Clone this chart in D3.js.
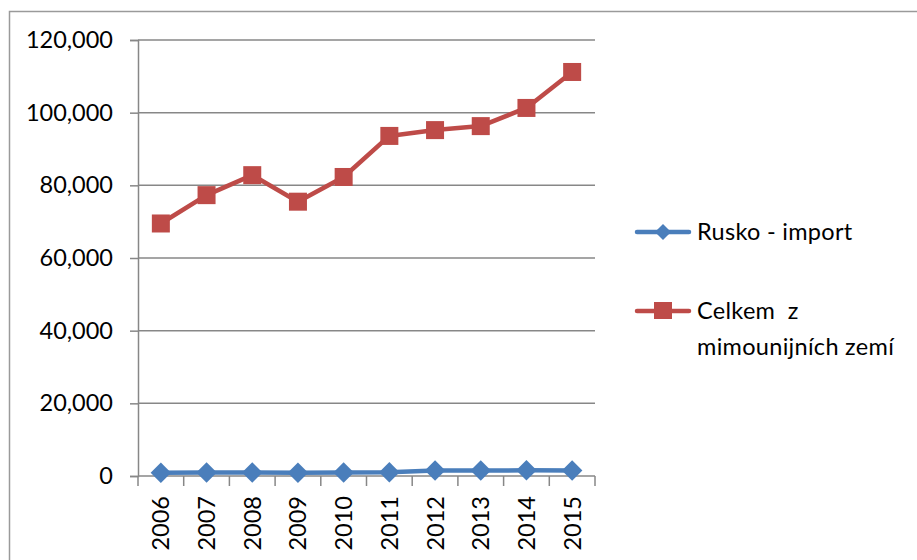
<!DOCTYPE html>
<html>
<head>
<meta charset="utf-8">
<script src="https://cdn.jsdelivr.net/npm/d3@7"></script>
<style>
  body { margin: 0; background: #fff; }
  svg text { font-family: Lato, "Open Sans", sans-serif; fill: #000; }
</style>
</head>
<body>
<svg id="chart" width="917" height="560"></svg>
<script>
// Data
const years = ["2006", "2007", "2008", "2009", "2010", "2011", "2012", "2013", "2014", "2015"];
const ruskoImport = [900, 950, 950, 900, 950, 1000, 1500, 1500, 1550, 1500];
const celkem = [69500, 77300, 82800, 75500, 82300, 93600, 95200, 96300, 101300, 111200];
const yTicks = [0, 20000, 40000, 60000, 80000, 100000, 120000];

const svg = d3.select("#chart");
const fontSize = "23.5px";

// outer frame
svg.append("rect")
    .attr("x", 9.5).attr("y", 11.5)
    .attr("width", 920).attr("height", 560)
    .attr("fill", "none")
    .attr("stroke", "#9a9a9a")
    .attr("stroke-width", 1.5);

const plot = { left: 138, right: 595, top: 40, bottom: 476 };

const x = d3.scaleBand()
    .domain(years)
    .range([plot.left, plot.right]);

const y = d3.scaleLinear()
    .domain([0, 120000])
    .range([plot.bottom, plot.top]);

const grey = "#878787";

// horizontal gridlines
svg.append("g")
    .selectAll("line")
    .data(yTicks.filter(d => d > 0))
    .enter().append("line")
    .attr("x1", plot.left).attr("x2", plot.right)
    .attr("y1", d => y(d)).attr("y2", d => y(d))
    .attr("stroke", grey)
    .attr("stroke-width", 1.5);

// y axis
const yAxis = svg.append("g")
    .attr("transform", "translate(" + plot.left + ",0)")
    .call(d3.axisLeft(y)
        .tickValues(yTicks)
        .tickSize(8)
        .tickPadding(17)
        .tickFormat(d3.format(",")));
yAxis.select(".domain").attr("stroke", grey).attr("stroke-width", 1.5);
yAxis.selectAll(".tick line").attr("stroke", grey).attr("stroke-width", 1.5);
yAxis.selectAll(".tick text")
    .attr("font-size", fontSize)
    .attr("fill", "#000")
    .style("font-family", "Lato, sans-serif");

// x axis
const xAxis = svg.append("g")
    .attr("transform", "translate(0," + plot.bottom + ")");
xAxis.append("line")
    .attr("x1", plot.left).attr("x2", plot.right)
    .attr("y1", 0).attr("y2", 0)
    .attr("stroke", grey).attr("stroke-width", 1.5);
const bounds = years.map(d => x(d)).concat([plot.right]);
xAxis.selectAll("line.tick")
    .data(bounds)
    .enter().append("line")
    .attr("class", "tick")
    .attr("x1", d => d).attr("x2", d => d)
    .attr("y1", 0).attr("y2", 10)
    .attr("stroke", grey).attr("stroke-width", 1.5);
xAxis.selectAll("text")
    .data(years)
    .enter().append("text")
    .attr("transform", d => "translate(" + (x(d) + x.bandwidth() / 2) + ",20) rotate(-90)")
    .attr("text-anchor", "end")
    .attr("dy", "0.36em")
    .attr("font-size", fontSize)
    .text(d => d);

const cx = d => x(d) + x.bandwidth() / 2;
const blue = "#4a7ebb";
const red = "#be4b48";

const line = d3.line()
    .x((d, i) => cx(years[i]))
    .y(d => y(d));

// Celkem series
svg.append("path")
    .datum(celkem)
    .attr("fill", "none")
    .attr("stroke", red)
    .attr("stroke-width", 4.5)
    .attr("stroke-linejoin", "round")
    .attr("d", line);
svg.selectAll("rect.celkem")
    .data(celkem)
    .enter().append("rect")
    .attr("class", "celkem")
    .attr("x", (d, i) => cx(years[i]) - 9)
    .attr("y", d => y(d) - 9)
    .attr("width", 18).attr("height", 18)
    .attr("fill", red);

// Rusko series
svg.append("path")
    .datum(ruskoImport)
    .attr("fill", "none")
    .attr("stroke", blue)
    .attr("stroke-width", 4.5)
    .attr("stroke-linejoin", "round")
    .attr("d", line);
const diamond = d3.symbol().type(d3.symbolSquare).size(210);
svg.selectAll("path.rusko")
    .data(ruskoImport)
    .enter().append("path")
    .attr("class", "rusko")
    .attr("d", diamond)
    .attr("transform", (d, i) => "translate(" + cx(years[i]) + "," + y(d) + ") rotate(45)")
    .attr("fill", blue);

// Legend
const legend = svg.append("g");
const legendItems = [
    { name: ["Rusko - import"], color: blue, shape: "diamond", y: 232 },
    { name: ["Celkem  z", "mimounijních zemí"], color: red, shape: "square", y: 311 }
];
legendItems.forEach(function(item) {
    legend.append("line")
        .attr("x1", 637).attr("x2", 689)
        .attr("y1", item.y).attr("y2", item.y)
        .attr("stroke", item.color)
        .attr("stroke-width", 4.5)
        .attr("stroke-linecap", "round");
    if (item.shape === "diamond") {
        legend.append("path")
            .attr("d", d3.symbol().type(d3.symbolSquare).size(130))
            .attr("transform", "translate(663," + item.y + ") rotate(45)")
            .attr("fill", item.color);
    } else {
        legend.append("rect")
            .attr("x", 654).attr("y", item.y - 9)
            .attr("width", 18).attr("height", 17)
            .attr("fill", item.color);
    }
    item.name.forEach(function(t, k) {
        legend.append("text")
            .attr("x", 697)
            .attr("y", item.y + k * 36)
            .attr("dy", "0.36em")
            .attr("font-size", fontSize)
            .attr("letter-spacing", "0.3px")
            .style("white-space", "pre")
            .text(t);
    });
});
</script>
</body>
</html>
